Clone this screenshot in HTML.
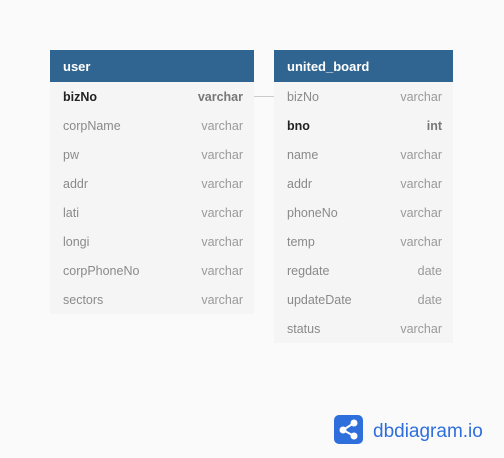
<!DOCTYPE html>
<html><head><meta charset="utf-8"><style>
body{margin:0;width:504px;height:458px;background:#fafafb;font-family:"Liberation Sans",sans-serif;position:relative;overflow:hidden}
.tbl{position:absolute;top:50px;background:#f5f5f5}
.hd{height:32px;background:#306591;color:#fff;font-weight:bold;font-size:13px;line-height:33px;padding-left:13px}
.row{height:29px;line-height:31px;font-size:12.5px;color:#8a8a8a;position:relative;padding-left:13px}
.row .t{position:absolute;right:11px;top:0;color:#9a9a9a}
.row.pk{color:#222;font-weight:bold}
.row.pk .t{color:#777}
</style></head><body>
<div class="tbl" style="left:50px;width:204px">
<div class="hd">user</div>
<div class="row pk">bizNo<span class="t">varchar</span></div>
<div class="row">corpName<span class="t">varchar</span></div>
<div class="row">pw<span class="t">varchar</span></div>
<div class="row">addr<span class="t">varchar</span></div>
<div class="row">lati<span class="t">varchar</span></div>
<div class="row">longi<span class="t">varchar</span></div>
<div class="row">corpPhoneNo<span class="t">varchar</span></div>
<div class="row">sectors<span class="t">varchar</span></div>
</div>
<div style="position:absolute;left:254px;top:96px;width:20px;height:1px;background:#ccc"></div>
<div class="tbl" style="left:274px;width:179px">
<div class="hd">united_board</div>
<div class="row">bizNo<span class="t">varchar</span></div>
<div class="row pk">bno<span class="t">int</span></div>
<div class="row">name<span class="t">varchar</span></div>
<div class="row">addr<span class="t">varchar</span></div>
<div class="row">phoneNo<span class="t">varchar</span></div>
<div class="row">temp<span class="t">varchar</span></div>
<div class="row">regdate<span class="t">date</span></div>
<div class="row">updateDate<span class="t">date</span></div>
<div class="row">status<span class="t">varchar</span></div>
</div>
<div style="position:absolute;left:334px;top:415px;width:29px;height:29px;border-radius:5px;background:#2f6fdc">
<svg width="29" height="29"><g stroke="#fff" stroke-width="2"><line x1="9" y1="15" x2="20" y2="8"/><line x1="9" y1="15" x2="20" y2="21"/></g><g fill="#fff"><circle cx="9" cy="15" r="3.5"/><circle cx="20" cy="8" r="3.5"/><circle cx="20" cy="21" r="3.5"/></g></svg>
</div>
<div style="position:absolute;left:373px;top:420px;font-size:19px;color:#2f6fdc;line-height:24px">dbdiagram.io</div>
</body></html>
